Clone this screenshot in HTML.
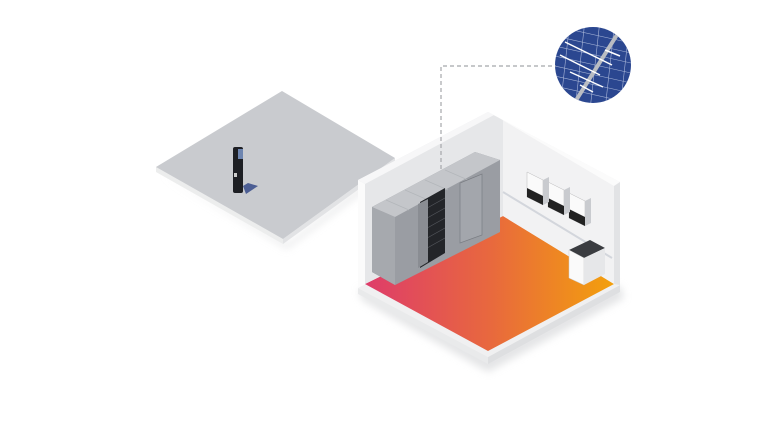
<!DOCTYPE html>
<html><head><style>html,body{margin:0;padding:0;background:#fff;width:768px;height:432px;overflow:hidden}</style></head>
<body>
<svg width="768" height="432" viewBox="0 0 768 432" xmlns="http://www.w3.org/2000/svg">
<defs>
<linearGradient id="fl" x1="0" y1="0" x2="1" y2="0">
<stop offset="0" stop-color="#de3c6a"/><stop offset="0.5" stop-color="#e8683e"/><stop offset="1" stop-color="#f3a00c"/>
</linearGradient>
<clipPath id="cc"><circle cx="593" cy="65" r="38"/></clipPath>
<filter id="bl"><feGaussianBlur stdDeviation="4"/></filter>
</defs>
<!-- left plate -->
<polygon points="160,174 287,249 398,166 390,164 287,244" fill="#dadbdd" filter="url(#bl)" opacity="0.6"/>
<polygon points="156,167 283,239 283,244 156,172" fill="#eceded"/>
<polygon points="283,239 395,158 395,163 283,244" fill="#e2e3e5"/>
<polygon points="282,91 156,167 283,239 395,158" fill="#c9cbcf"/>
<polygon points="243,186 248,183 258,186 246,194" fill="#4c5e94"/>
<rect x="233" y="147" width="10" height="46" rx="2" fill="#1d1f24"/>
<rect x="238" y="149" width="5" height="10" fill="#6d85b0"/>
<rect x="234" y="173" width="3" height="4" fill="#ccc"/>
<!-- solar circle -->
<circle cx="593" cy="65" r="38" fill="#2b4790"/>
<g clip-path="url(#cc)" stroke="#c8d2ea" stroke-width="0.6" opacity="0.8">
<line x1="550" y1="35" x2="640" y2="55"/><line x1="550" y1="45" x2="640" y2="65"/><line x1="550" y1="55" x2="640" y2="75"/>
<line x1="550" y1="65" x2="640" y2="85"/><line x1="550" y1="75" x2="640" y2="95"/><line x1="550" y1="85" x2="640" y2="105"/>
<line x1="550" y1="25" x2="640" y2="45"/>
<line x1="570" y1="20" x2="560" y2="110"/><line x1="585" y1="20" x2="575" y2="110"/><line x1="600" y1="20" x2="590" y2="110"/><line x1="615" y1="20" x2="605" y2="110"/><line x1="630" y1="20" x2="620" y2="110"/>
</g>
<g clip-path="url(#cc)"><line x1="620" y1="30" x2="570" y2="110" stroke="#b9bcc2" stroke-width="4"/>
<g stroke="#fff" stroke-width="1.5" fill="none"><line x1="565" y1="42" x2="612" y2="65"/><line x1="560" y1="55" x2="600" y2="75"/><line x1="570" y1="72" x2="603" y2="87"/><line x1="580" y1="85" x2="593" y2="92"/><line x1="605" y1="50" x2="620" y2="56"/></g></g>
<!-- room shadow -->
<polygon points="362,300 488,372 624,298 620,285 488,357 358,288" fill="#d8d9db" filter="url(#bl)" opacity="0.7"/>
<!-- floor slab -->
<polygon points="358,288 488,357 488,364 358,294" fill="#e9eaeb"/>
<polygon points="488,357 620,285 620,292 488,364" fill="#dedfe1"/>
<polygon points="358,288 503,212 620,285 488,357" fill="#f0f0f1"/>
<polygon points="365,284 503,216 614,284 488,351" fill="url(#fl)"/>
<!-- back left wall -->
<polygon points="358,180 488,112 503,120 503,216 365,284 365,184" fill="#e6e7e9"/>
<polygon points="358,180 488,112 494,115 365,184" fill="#f7f7f8"/>
<polygon points="358,180 365,184 365,284 358,288" fill="#fbfbfb"/>
<!-- back right wall -->
<polygon points="488,112 620,182 614,186 614,284 503,216 503,120" fill="#f2f2f3"/>
<polygon points="488,112 620,182 614,186 494,115" fill="#fbfbfb"/>
<polygon points="614,186 620,182 620,285 614,284" fill="#e2e3e5"/>
<line x1="503" y1="192" x2="612" y2="258" stroke="#d3d6dc" stroke-width="2"/>
<!-- dashed line -->
<polyline points="441,176 441,66 556,66" fill="none" stroke="#a5a7aa" stroke-width="1.2" stroke-dasharray="4,3"/>
<!-- cabinets -->
<polygon points="372,207 475,152 500,160 500,230 395,285 372,272" fill="#8d9096"/>
<polygon points="372,207 395,217 395,285 372,272" fill="#a6a9ae"/>
<polygon points="395,217 500,160 500,232 395,285" fill="#9a9da3"/>
<polygon points="372,207 475,152 500,160 395,217" fill="#c4c6ca"/>
<g stroke="#b3b6ba" stroke-width="0.7"><line x1="386" y1="200" x2="409" y2="210"/><line x1="405" y1="190" x2="428" y2="200"/><line x1="425" y1="180" x2="448" y2="190"/><line x1="445" y1="170" x2="468" y2="180"/></g>
<polygon points="420,202 445,188 445,253 420,268" fill="#232529"/>
<g stroke="#55585e" stroke-width="0.7"><line x1="420" y1="212" x2="445" y2="198"/><line x1="420" y1="222" x2="445" y2="208"/><line x1="420" y1="232" x2="445" y2="218"/><line x1="420" y1="242" x2="445" y2="228"/><line x1="420" y1="252" x2="445" y2="238"/></g>
<polygon points="418,204 428,199 428,262 418,268" fill="#8a8d93"/>
<polygon points="460,183 482,174 482,235 460,243" fill="#a3a6ac" stroke="#7a7d83" stroke-width="0.7"/>
<!-- inverters -->
<g>
<polygon points="527,172 543,180 543,205 527,197" fill="#fafafa" stroke="#bbb" stroke-width="0.5"/><polygon points="527,188 543,196 543,205 527,197" fill="#222"/>
<polygon points="548,182 564,190 564,215 548,207" fill="#fafafa" stroke="#bbb" stroke-width="0.5"/><polygon points="548,198 564,206 564,215 548,207" fill="#222"/>
<polygon points="569,193 585,201 585,226 569,218" fill="#fafafa" stroke="#bbb" stroke-width="0.5"/><polygon points="569,209 585,217 585,226 569,218" fill="#222"/>
<polygon points="543,180 549,177 549,202 543,205" fill="#c9cbcf"/><polygon points="564,190 570,187 570,212 564,215" fill="#c9cbcf"/><polygon points="585,201 591,198 591,223 585,226" fill="#c9cbcf"/>
</g>
<!-- battery box -->
<polygon points="569,250 590,240 605,248 584,258" fill="#3a3c40"/>
<polygon points="569,250 584,258 584,285 569,278" fill="#fafafa" stroke="#ccc" stroke-width="0.5"/>
<polygon points="584,258 605,248 605,274 584,285" fill="#e6e7e9"/>
</svg>
</body></html>
